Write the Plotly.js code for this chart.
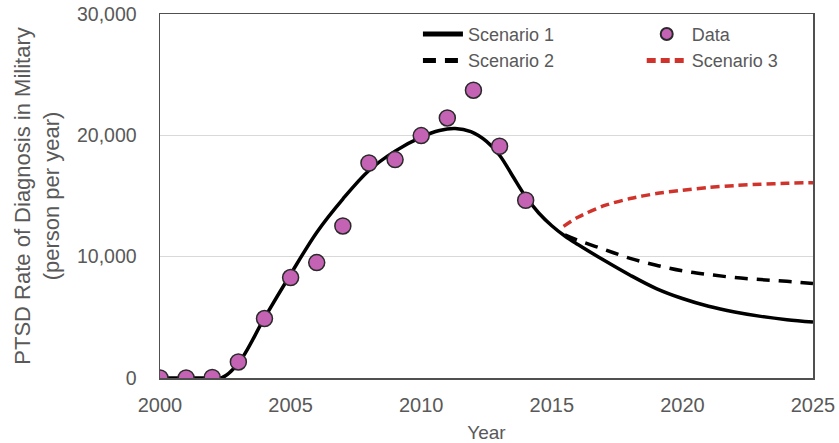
<!DOCTYPE html>
<html><head><meta charset="utf-8">
<script src="https://cdn.plot.ly/plotly-3.0.1.min.js"></script>
<style>html,body{margin:0;padding:0;background:#fff;}#chart{width:839px;height:443px;}</style>
</head><body><div id="chart"></div>
<script>
const dataYears = [2000,2001,2002,2003,2004,2005,2006,2007,2008,2009,2010,2011,2012,2013,2014];
const dataValues = [0,0,50,1320,4900,8280,9510,12530,17720,18000,19980,21430,23720,19100,14650];

const s1Years = [2000,2001,2002,2002.35,2003,2004,2005,2006,2007,2008,2009,2010,2010.7,2011.3,2011.9,2012.5,2013,2013.5,2014,2014.5,2015,2015.5,2016,2017,2018,2019,2020,2021,2022,2023,2024,2025];
const s1Values = [0,0,0,0,1200,4950,8550,12000,14750,17100,18700,19850,20400,20560,20300,19500,18360,16650,14950,13600,12550,11700,11000,9700,8470,7370,6550,5910,5440,5080,4810,4620];

const s2Years = [2015.5,2016,2017,2018,2019,2020,2021,2022,2023,2024,2025];
const s2Values = [11800,11350,10600,9860,9290,8830,8530,8280,8110,7970,7780];

const s3Years = [2015.45,2016,2017,2018,2019,2020,2021,2022,2023,2024,2025];
const s3Values = [12500,13250,14200,14790,15200,15470,15700,15860,15970,16050,16100];

const xTicks = [2000,2005,2010,2015,2020,2025];
const yTicks = [0,10000,20000,30000];
const yTickText = ['0','10,000','20,000','30,000'];

const font = 'Liberation Sans, Arial, sans-serif';
const gray = '#595959';

const traces = [
  {x:s1Years, y:s1Values, type:'scatter', mode:'lines', name:'Scenario 1', legend:'legend',
   line:{color:'#000', width:3.5, shape:'spline', smoothing:1}},
  {x:s2Years, y:s2Values, type:'scatter', mode:'lines', name:'Scenario 2', legend:'legend',
   line:{color:'#000', width:3.5, dash:'13px,9px', shape:'spline'}},
  {x:dataYears, y:dataValues, type:'scatter', mode:'markers', name:'Data', legend:'legend2',
   marker:{size:16, color:'#C463B4', line:{color:'#2a2a2a', width:1.5}}},
  {x:s3Years, y:s3Values, type:'scatter', mode:'lines', name:'Scenario 3', legend:'legend2',
   line:{color:'#D0332B', width:3.5, dash:'9px,5px', shape:'spline', smoothing:0.8}}
];

const legendCommon = {yanchor:'top', xanchor:'left', bgcolor:'rgba(0,0,0,0)',
  font:{family:font, size:18, color:gray}, tracegroupgap:0, itemwidth:40, itemsizing:'constant'};

const layout = {
  width:839, height:443,
  margin:{l:160, r:26, t:14, b:65},
  paper_bgcolor:'#fff', plot_bgcolor:'#fff',
  font:{family:font, color:gray, size:18},
  showlegend:true,
  legend:Object.assign({x:0.395, y:0.995}, legendCommon),
  legend2:Object.assign({x:0.7377, y:0.995}, legendCommon),
  xaxis:{range:[2000,2025], tickvals:xTicks, ticktext:xTicks.map(String),
    showgrid:false, zeroline:false, showline:true, mirror:true, linecolor:'#505050', linewidth:1.5,
    ticks:'', tickfont:{size:20, color:gray}, ticklabelstandoff:8,
    title:{text:'Year', font:{size:19, color:gray}, standoff:11}},
  yaxis:{range:[0,30000], tickvals:yTicks, ticktext:yTickText,
    showgrid:true, gridcolor:'#d9d9d9', gridwidth:1, zeroline:false,
    showline:true, mirror:true, linecolor:'#505050', linewidth:1.5,
    ticks:'', tickfont:{size:19.5, color:gray}, ticklabelstandoff:18,
    title:{text:'PTSD Rate of Diagnosis in Military<br>(person per year)', font:{size:22, color:gray}, standoff:11}}
};

Plotly.newPlot('chart', traces, layout, {displayModeBar:false, staticPlot:true});
</script></body></html>
